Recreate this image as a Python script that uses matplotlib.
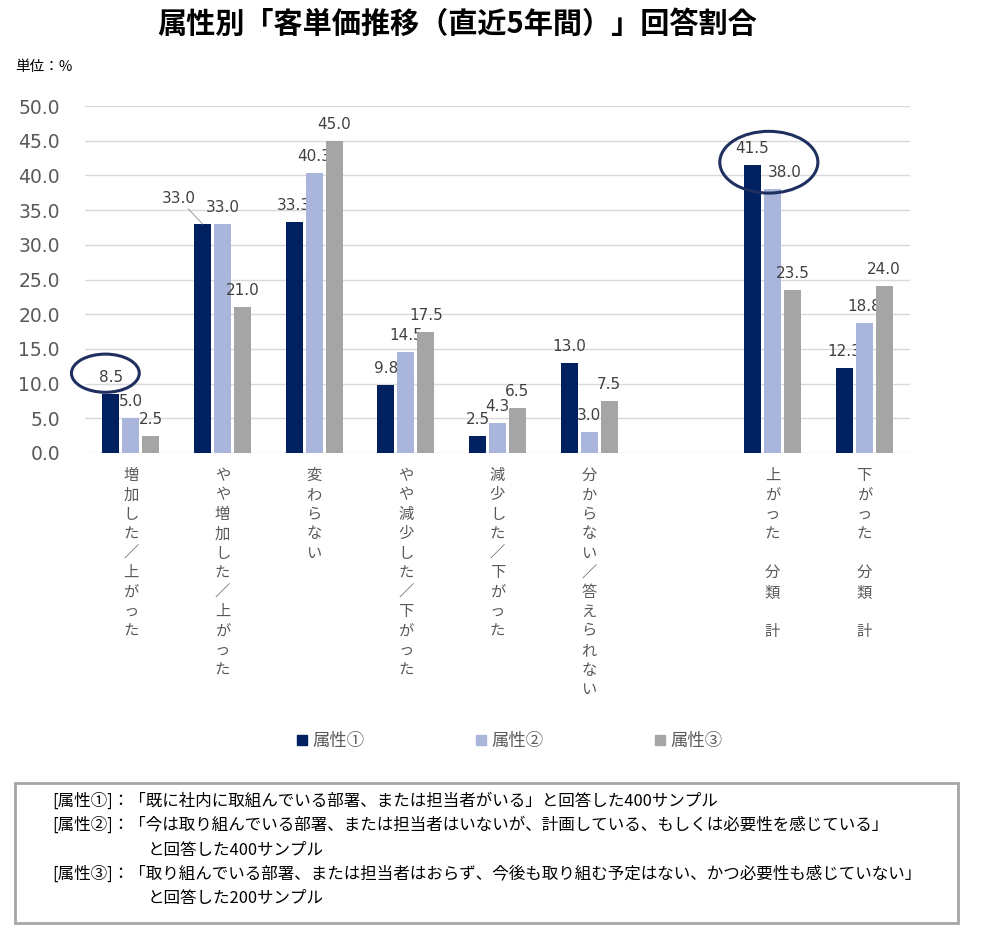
import numpy as np
import matplotlib
matplotlib.use("Agg")
import matplotlib.pyplot as plt
from matplotlib.patches import Ellipse, Rectangle, Patch

JP = ['Noto Sans CJK JP', 'DejaVu Sans']

categories = ['増加した／上がった', 'やや増加した／上がった', '変わらない',
              'やや減少した／下がった', '減少した／下がった', '分からない／答えられない',
              '上がった　分類　計', '下がった　分類　計']
attr1 = [8.5, 33.0, 33.3, 9.8, 2.5, 13.0, 41.5, 12.3]
attr2 = [5.0, 33.0, 40.3, 14.5, 4.3, 3.0, 38.0, 18.8]
attr3 = [2.5, 21.0, 45.0, 17.5, 6.5, 7.5, 23.5, 24.0]
series_names = ['属性①', '属性②', '属性③']
colors = ['#002060', '#A9B5DB', '#A5A5A5']
yticks = [0, 5, 10, 15, 20, 25, 30, 35, 40, 45, 50]

notes = [
    ('[属性①]：「既に社内に取組んでいる部署、または担当者がいる」と回答した400サンプル', None),
    ('[属性②]：「今は取り組んでいる部署、または担当者はいないが、計画している、もしくは必要性を感じている」', 'と回答した400サンプル'),
    ('[属性③]：「取り組んでいる部署、または担当者はおらず、今後も取り組む予定はない、かつ必要性も感じていない」', 'と回答した200サンプル'),
]

# one empty slot between the detail items and the totals
n = len(categories)
pos = np.arange(n) + (np.arange(n) >= 6)

fig = plt.figure(figsize=(10.06, 9.25), dpi=100)
ax = fig.add_axes([85/1006, 1-453/925, 825/1006, 347/925])

w = 0.185
off = 0.218
all_series = [attr1, attr2, attr3]
for i, vals in enumerate(all_series):
    xs = pos + (i - 1) * off
    ax.bar(xs, vals, width=w, color=colors[i], zorder=3)
    for j, (x, v) in enumerate(zip(xs, vals)):
        if i == 0 and j == 1:
            ax.annotate(f'{v:.1f}', xy=(x, v), xytext=(-24, 18), textcoords='offset pixels',
                        ha='center', va='bottom', fontsize=11, color='#404040',
                        arrowprops=dict(arrowstyle='-', color='#A6A6A6', lw=0.8,
                                        shrinkA=0, shrinkB=0))
        else:
            dx = 12 if (i == 1 and j == 6) else 0
            ax.annotate(f'{v:.1f}', xy=(x, v), xytext=(dx, 9), textcoords='offset pixels',
                        ha='center', va='bottom', fontsize=11, color='#404040')

# highlight ellipses around labels
ax.add_patch(Ellipse((pos[0] - off - 0.06, 11.5), 0.74, 5.5, fill=False,
                     edgecolor='#1F3060', lw=2.2, zorder=5, clip_on=False))
ax.add_patch(Ellipse((pos[6] - 0.04, 41.9), 1.07, 8.9, fill=False,
                     edgecolor='#1F3060', lw=2.2, zorder=5, clip_on=False))

ax.set_xlim(-0.5, pos[-1] + 0.5)
ax.set_ylim(0, 50)
ax.set_yticks(yticks)
ax.set_yticklabels([f'{t:.1f}' for t in yticks], fontsize=13.5, color='#595959')
ax.grid(axis='y', color='#D9D9D9', lw=1, zorder=0)
for s in ax.spines.values():
    s.set_visible(False)
ax.tick_params(axis='y', length=0, pad=18)
ax.tick_params(axis='x', length=0, pad=10)
ax.set_xticks(pos)
ax.set_xticklabels(['\n'.join(c) for c in categories], family=JP, fontsize=11,
                   color='#595959', linespacing=1.19, va='top')

fig.text(457/1006, 1-24/925, '属性別「客単価推移（直近5年間）」回答割合', family=JP,
         fontsize=21, fontweight='bold', ha='center', va='center')
fig.text(15/1006, 1-67/925, '単位：%', family=JP, fontsize=10.5, ha='left', va='center')

handles = [Patch(color=c) for c in colors]
fig.legend(handles, series_names, loc='center', bbox_to_anchor=(510/1006, 1-741/925),
           ncol=3, frameon=False, columnspacing=6.4, handlelength=0.55, handleheight=0.55,
           handletextpad=0.35, prop={'family': JP, 'size': 12.5}, labelcolor='#595959')

fig.add_artist(Rectangle((15/1006, 1-923/925), 943/1006, 140/925, transform=fig.transFigure,
                         fill=False, edgecolor='#A6A6A6', lw=2))
y = 801
for first, second in notes:
    fig.text(52/1006, 1-y/925, first, family=JP, fontsize=11.9, ha='left', va='center')
    y += 24.5
    if second:
        fig.text(148/1006, 1-y/925, second, family=JP, fontsize=11.9, ha='left', va='center')
        y += 24.5

fig.savefig('out.png', dpi=100)
